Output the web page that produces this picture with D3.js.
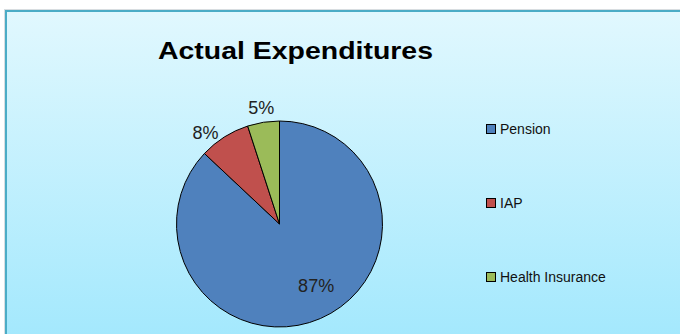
<!DOCTYPE html>
<html>
<head>
<meta charset="utf-8">
<script src="https://d3js.org/d3.v7.min.js"></script>
<style>
    body { margin: 0; background: #ffffff; }
    svg { display: block; }
</style>
</head>
<body>
<div id="viewport"></div>
<script>

// chart data
var categories = ["Pension", "IAP", "Health Insurance"];
var values = [87, 8, 5];
var labels = ["87%", "8%", "5%"];
var colors = ["#4F81BD", "#C0504D", "#9BBB59"];

var width = 680,
    height = 334;

function init() {

    var svg = d3.select("#viewport").append("svg")
        .attr("width", width)
        .attr("height", height);

    // background gradient of the chart area
    var grad = svg.append("defs").append("linearGradient")
        .attr("id", "bg")
        .attr("x1", 0).attr("y1", 0)
        .attr("x2", 0).attr("y2", 1);
    grad.append("stop").attr("offset", "0%").attr("stop-color", "#E1F8FE");
    grad.append("stop").attr("offset", "100%").attr("stop-color", "#A2E8FD");

    // faint shadow + frame
    svg.append("rect")
        .attr("x", 4).attr("y", 9)
        .attr("width", width).attr("height", height)
        .attr("fill", "#d8dde0");
    svg.append("rect")
        .attr("x", 6).attr("y", 11)
        .attr("width", width).attr("height", height)
        .attr("fill", "url(#bg)")
        .attr("stroke", "#4BACC6")
        .attr("stroke-width", 2);

    // title
    svg.append("text")
        .attr("x", 295.5)
        .attr("y", 59)
        .attr("text-anchor", "middle")
        .attr("font-family", "'Liberation Sans', Arial, sans-serif")
        .attr("font-weight", "bold")
        .attr("font-size", 24)
        .attr("textLength", 275)
        .attr("lengthAdjust", "spacingAndGlyphs")
        .attr("fill", "#000")
        .text("Actual Expenditures");

    drawPie(svg);
    drawLegend(svg);
}

function drawPie(svg) {

    var cx = 279.5, cy = 224, radius = 103;

    var data = categories.map(function(c, i) {
        return {name: c, value: values[i], label: labels[i], color: colors[i]};
    });

    var pie = d3.pie()
        .sort(null)
        .value(function(d) { return d.value; });

    var arc = d3.arc().innerRadius(0).outerRadius(radius);
    var inner = d3.arc().innerRadius(radius * 0.7).outerRadius(radius * 0.7);
    var outer = d3.arc().innerRadius(radius * 1.14).outerRadius(radius * 1.14);

    var g = svg.append("g")
        .attr("transform", "translate(" + cx + "," + cy + ")");

    var arcs = pie(data);

    g.selectAll("path")
        .data(arcs)
        .enter().append("path")
        .attr("d", arc)
        .attr("fill", function(d) { return d.data.color; })
        .attr("stroke", "#000")
        .attr("stroke-width", 1);

    // big slice gets label inside, small ones outside
    g.selectAll("text")
        .data(arcs)
        .enter().append("text")
        .attr("transform", function(d) {
            var big = (d.endAngle - d.startAngle) > Math.PI;
            var p = big ? inner.centroid(d) : outer.centroid(d);
            if (big) { p[0] += 8; p[1] -= 4; }
            else if (d.index == 1) { p[0] -= 11; p[1] += 8; }
            return "translate(" + p + ")";
        })
        .attr("text-anchor", "middle")
        .attr("dy", "0.35em")
        .attr("font-family", "'Liberation Sans', Arial, sans-serif")
        .attr("font-size", 18)
        .attr("fill", "#222")
        .text(function(d) { return d.data.label; });
}

function drawLegend(svg) {

    var y = d3.scalePoint()
        .domain(categories)
        .range([129, 277]);

    var item = svg.append("g").selectAll("g")
        .data(categories)
        .enter().append("g")
        .attr("transform", function(d) { return "translate(486," + y(d) + ")"; });

    item.append("rect")
        .attr("x", 0.5).attr("y", -4.5)
        .attr("width", 9).attr("height", 9)
        .attr("fill", function(d, i) { return colors[i]; })
        .attr("stroke", "#000")
        .attr("stroke-width", 1);

    item.append("text")
        .attr("x", 14)
        .attr("dy", "0.35em")
        .attr("font-family", "'Liberation Sans', Arial, sans-serif")
        .attr("font-size", 14)
        .attr("fill", "#111")
        .text(function(d) { return d; });
}

window.onload = init;
</script>
</body>
</html>
